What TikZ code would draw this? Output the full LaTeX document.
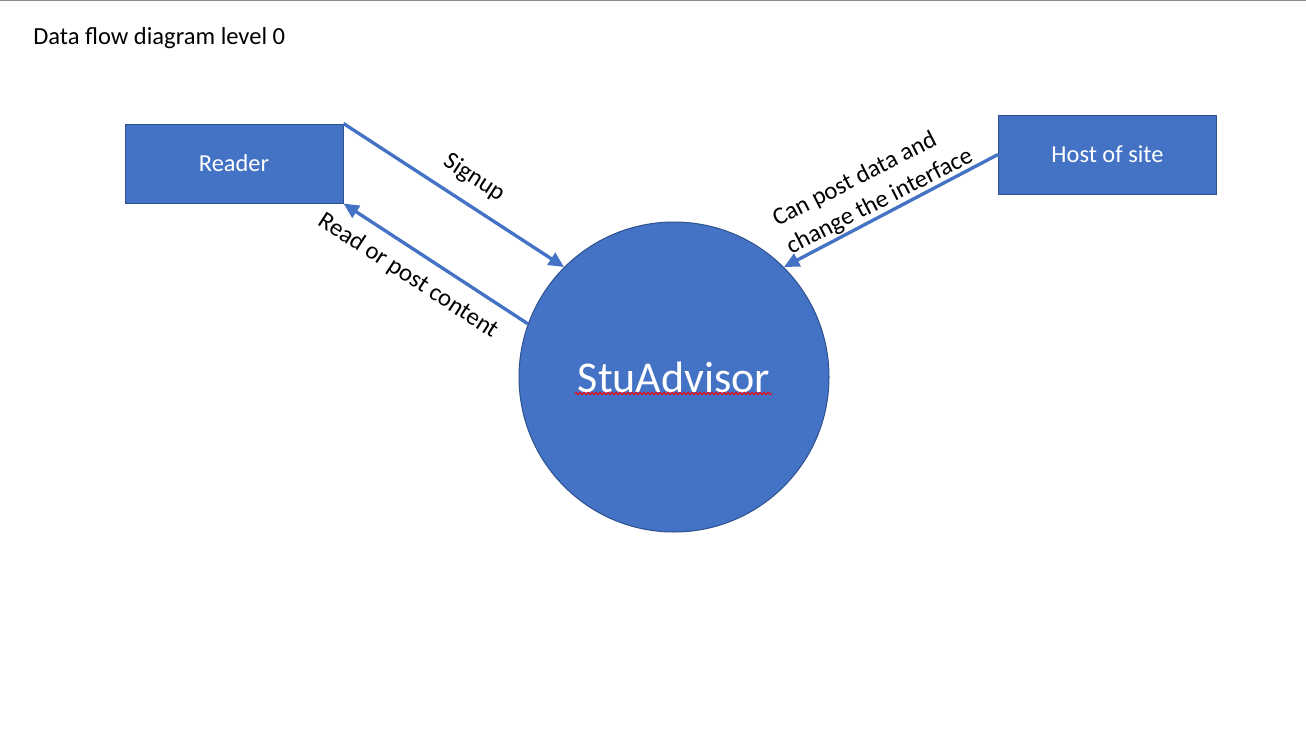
\documentclass[tikz,border=0pt]{standalone}
\usepackage{fontspec}
\setmainfont{Carlito}
\usetikzlibrary{arrows.meta,decorations.pathmorphing}
\definecolor{boxblue}{HTML}{4472C4}
\definecolor{boxedge}{HTML}{2F528F}
\definecolor{topline}{HTML}{8C8C8C}
\begin{document}
\begin{tikzpicture}[x=0.75pt,y=-0.75pt,
  entity/.style={draw=boxedge,line width=0.75pt,fill=boxblue,text=white,
    minimum width=163.5pt,minimum height=59.25pt,inner sep=0pt,font=\fontsize{18.3}{22}\selectfont},
  process/.style={circle,draw=boxedge,line width=0.75pt,fill=boxblue,text=white,
    minimum size=232.5pt,inner sep=0pt,font=\fontsize{33}{39}\selectfont},
  flow/.style={draw=boxblue,line width=2.5pt,-{Triangle[length=11.5pt,width=10.5pt]}},
  flowlabel/.style={font=\fontsize{18.5}{23}\selectfont,inner sep=0pt}]
\useasboundingbox (0,0) rectangle (1306,732);
\fill[white] (0,0) rectangle (1306,732);
\draw[topline,line width=1pt] (0,0.6) -- (1306,0.6);
\node[anchor=base west,inner sep=0pt,font=\fontsize{18.4}{22}\selectfont] (title) at (33,44.3) {Data flow diagram level 0};
\node[entity] (reader) at (234,163.5) {Reader};
\node[entity] (host) at (1107.5,154.5) {Host of site};
\node[process] (stu) at (674,377) {StuAdvisor};
\draw[red,line width=0.7pt,decorate,decoration={snake,amplitude=0.9pt,segment length=3pt}] (575,393.5) -- (772,393.5);
\draw[flow] (reader.north east) -- (stu.135);
\draw[flow] (stu.160) -- (reader.south east);
\draw[flow] (host.west) -- (stu.45);
\node[flowlabel,rotate=-33] (l1) at (474,178) {Signup};
\node[flowlabel,rotate=-33] (l2) at (408,276) {Read or post content};
\node[flowlabel,rotate=27,align=left] (l3) at (873,188) {Can post data and\\change the interface};
\end{tikzpicture}
\end{document}
